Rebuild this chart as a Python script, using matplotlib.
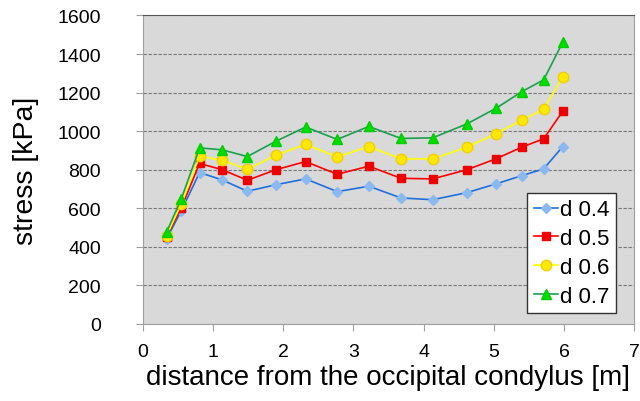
import matplotlib
matplotlib.use("Agg")
import matplotlib.pyplot as plt

plt.rcParams["font.family"] = ["Liberation Sans", "DejaVu Sans"]

# distance along the neck [m]
distance = [0.34, 0.55, 0.81, 1.13, 1.49, 1.90, 2.32, 2.77, 3.22, 3.68,
            4.13, 4.62, 5.03, 5.40, 5.71, 5.98]

# stress [kPa] for each diameter
d04 = [441, 587, 785, 747, 688, 722, 752, 686, 714, 653, 644, 681, 726, 769, 804, 919]
d05 = [453, 603, 832, 800, 745, 800, 842, 776, 818, 755, 752, 800, 856, 917, 960, 1102]
d06 = [458, 623, 870, 849, 802, 875, 931, 866, 920, 856, 856, 917, 986, 1057, 1113, 1280]
d07 = [476, 649, 913, 903, 868, 948, 1021, 957, 1024, 962, 965, 1038, 1118, 1205, 1266, 1460]

fig = plt.figure(figsize=(6.4, 4.02), dpi=100)
ax = fig.add_axes([0.223, 0.192, 0.768, 0.767])
ax.set_facecolor("#d9d9d9")

ax.plot(distance, d04, color="#1f6fe0", lw=1.2, marker="D", ms=5.5,
        mfc="#8ab8f0", mec="#8ab8f0", label="d 0.4")
ax.plot(distance, d05, color="#ff0000", lw=1.2, marker="s", ms=5.5,
        mfc="#ee0000", mec="#ee0000", label="d 0.5")
ax.plot(distance, d06, color="#ffff00", lw=1.2, marker="o", ms=7.5,
        mfc="#ffe800", mec="#f0d000", label="d 0.6")
ax.plot(distance, d07, color="#1aa050", lw=1.2, marker="^", ms=7.5,
        mfc="#00dd00", mec="#00cc00", label="d 0.7")

ax.set_xlim(0, 7)
ax.set_ylim(0, 1600)
ax.set_xticks(range(0, 8))
ax.set_yticks(range(0, 1601, 200))
ax.yaxis.grid(True, linestyle=(0, (3, 1.5)), color="#777777", lw=0.8)
ax.set_axisbelow(True)

for s in ["left", "bottom", "right"]:
    ax.spines[s].set_color("#a0a0a0")
ax.spines["top"].set_color("#555555")
ax.tick_params(axis="both", direction="out", length=5, color="#a0a0a0",
               labelsize=14)
ax.tick_params(axis="y", pad=25)
ax.tick_params(axis="x", pad=9)

ax.set_xlabel("distance from the occipital condylus [m]", fontsize=20, labelpad=3)
ax.set_ylabel("stress [kPa]", fontsize=20.5, labelpad=13)

leg = ax.legend(loc="lower right", bbox_to_anchor=(0.962, 0.034), fontsize=16,
                fancybox=False, framealpha=1, edgecolor="#333333",
                handlelength=1.1, handletextpad=0.05, borderpad=0.3,
                labelspacing=0.35, borderaxespad=0.0)
leg.get_frame().set_linewidth(1.0)

plt.savefig("out.png", dpi=100)
